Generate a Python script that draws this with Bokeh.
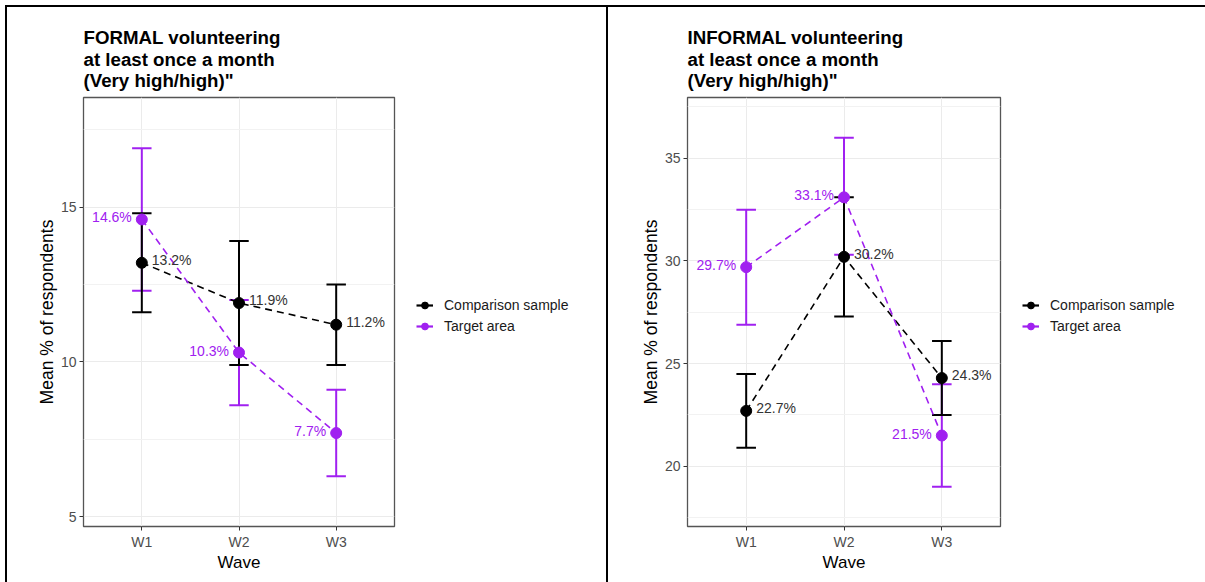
from bokeh.plotting import figure
from bokeh.models import (Range1d, FixedTicker, Legend, LegendItem, Div, Spacer)
from bokeh.layouts import row, column
from bokeh.core.properties import value
from bokeh.embed import file_html
from bokeh.resources import INLINE

waves = ["W1", "W2", "W3"]
series_names = ["Comparison sample", "Target area"]

formal_title = "FORMAL volunteering\nat least once a month\n(Very high/high)\""
formal_comp = [13.2, 11.9, 11.2]
formal_comp_lo = [11.6, 9.9, 9.9]
formal_comp_hi = [14.8, 13.9, 12.5]
formal_target = [14.6, 10.3, 7.7]
formal_target_lo = [12.3, 8.6, 6.3]
formal_target_hi = [16.9, 12.0, 9.1]
formal_yticks = [5, 10, 15]

informal_title = "INFORMAL volunteering\nat least once a month\n(Very high/high)\""
informal_comp = [22.7, 30.2, 24.3]
informal_comp_lo = [20.9, 27.3, 22.5]
informal_comp_hi = [24.5, 33.1, 26.1]
informal_target = [29.7, 33.1, 21.5]
informal_target_lo = [26.9, 30.3, 19.0]
informal_target_hi = [32.5, 36.0, 24.0]
informal_yticks = [20, 25, 30, 35]

FONT = "Liberation Sans"
BLACK = "#000000"
PURPLE = "#A020F0"
NAN = float("nan")
COLORS = (BLACK, PURPLE)


def make_panel(title, comp, comp_lo, comp_hi, targ, targ_lo, targ_hi, yticks,
               yrange, width, mb_left, mb_right, mb_top, mb_bottom):
    p = figure(width=width, height=575, x_range=Range1d(0.4, 3.6),
               y_range=Range1d(*yrange), output_backend="svg",
               toolbar_location=None, min_border_left=mb_left,
               min_border_right=mb_right, min_border_top=mb_top,
               min_border_bottom=mb_bottom)
    p.background_fill_color = "white"
    p.border_fill_color = "white"
    p.outline_line_color = "#555555"
    p.outline_line_width = 1.3

    xs = list(range(1, len(waves) + 1))
    step = yticks[1] - yticks[0]
    minor = [t - step / 2 for t in yticks] + [yticks[-1] + step / 2]

    p.xaxis.ticker = FixedTicker(ticks=xs)
    p.xaxis.major_label_overrides = {i + 1: w for i, w in enumerate(waves)}
    p.yaxis.ticker = FixedTicker(ticks=yticks, minor_ticks=minor)
    for ax in (p.xaxis, p.yaxis):
        ax.axis_line_color = None
        ax.major_tick_line_color = "#333333"
        ax.major_tick_out = 4
        ax.major_tick_in = 0
        ax.minor_tick_line_color = None
        ax.major_label_text_font = FONT
        ax.major_label_text_font_size = "14px"
        ax.major_label_text_color = "#4D4D4D"
        ax.major_label_standoff = 3
        ax.axis_label_text_font = FONT
        ax.axis_label_text_font_style = "normal"
        ax.axis_label_text_color = "#000000"
    p.xaxis.axis_label = "Wave"
    p.xaxis.axis_label_text_font_size = "17px"
    p.xaxis.axis_label_standoff = 0
    p.yaxis.axis_label = "Mean % of respondents"
    p.yaxis.axis_label_text_font_size = "17.5px"
    p.yaxis.axis_label_standoff = 1

    p.xgrid.grid_line_color = "#EBEBEB"
    p.ygrid.grid_line_color = "#EBEBEB"
    p.ygrid.minor_grid_line_color = "#F2F2F2"
    p.xgrid.grid_line_width = 1
    p.ygrid.grid_line_width = 1

    p.title.text = title
    p.title.text_font = FONT
    p.title.text_font_size = "18.7px"
    p.title.text_font_style = "bold"
    p.title.text_color = "#000000"
    p.title.align = "left"
    p.title.text_line_height = 1.02
    p.title.standoff = 13

    cap = 0.1
    # error bars: target first, comparison on top
    for lo, hi, col in ((targ_lo, targ_hi, PURPLE), (comp_lo, comp_hi, BLACK)):
        p.segment(x0=xs, y0=lo, x1=xs, y1=hi, line_color=col, line_width=2)
        p.segment(x0=[x - cap for x in xs], y0=lo, x1=[x + cap for x in xs], y1=lo,
                  line_color=col, line_width=2)
        p.segment(x0=[x - cap for x in xs], y0=hi, x1=[x + cap for x in xs], y1=hi,
                  line_color=col, line_width=2)

    p.line(xs, comp, line_color=BLACK, line_width=1.6, line_dash="7 5")
    p.line(xs, targ, line_color=PURPLE, line_width=1.6, line_dash="7 5")
    p.scatter(xs, comp, size=11, fill_color=BLACK, line_color=BLACK)
    p.scatter(xs, targ, size=11, fill_color=PURPLE, line_color=PURPLE)

    p.text(x=xs, y=comp, text=[f"{v}%" for v in comp], x_offset=10, y_offset=-3,
           text_align="left", text_baseline="middle", text_font=value(FONT),
           text_font_size="14px", text_color="#333333")
    p.text(x=xs, y=targ, text=[f"{v}%" for v in targ], x_offset=-10, y_offset=-2,
           text_align="right", text_baseline="middle", text_font=value(FONT),
           text_font_size="14px", text_color=PURPLE)
    return p


def make_legend_fig(width, loc):
    f = figure(width=width, height=575, x_range=Range1d(0, 1), y_range=Range1d(0, 1),
               output_backend="svg", toolbar_location=None, min_border=0,
               x_axis_type=None, y_axis_type=None)
    f.outline_line_color = None
    f.xgrid.visible = False
    f.ygrid.visible = False
    f.background_fill_color = "white"
    f.border_fill_color = "white"
    items = []
    for name, col in zip(series_names, COLORS):
        lr = f.line(x=[NAN, NAN], y=[NAN, NAN], line_color=col, line_width=2.2)
        sr = f.scatter(x=[NAN], y=[NAN], size=12, fill_color=col, line_color=col)
        items.append(LegendItem(label=name, renderers=[lr, sr]))
    leg = Legend(items=items, location=loc, padding=0, margin=0,
                 border_line_color=None, background_fill_alpha=0,
                 glyph_width=17, glyph_height=20, label_height=20, spacing=1,
                 label_standoff=11, label_text_font=FONT,
                 label_text_font_size="14px", label_text_color="#1A1A1A")
    f.add_layout(leg, "center")
    return f


p1 = make_panel(formal_title, formal_comp, formal_comp_lo, formal_comp_hi,
                formal_target, formal_target_lo, formal_target_hi, formal_yticks,
                (4.68, 18.54), 392, 76, 5, 90, 55)
l1 = make_legend_fig(207, (17, 190))
p2 = make_panel(informal_title, informal_comp, informal_comp_lo, informal_comp_hi,
                informal_target, informal_target_lo, informal_target_hi, informal_yticks,
                (17.07, 37.96), 397, 79, 5, 89, 56)
l2 = make_legend_fig(200, (17, 190))


def bar(w, h):
    return Div(text="", width=w, height=h, margin=(0, 0, 0, 0),
               styles={"background-color": "black"})


layout = column(
    Spacer(width=1205, height=5, margin=(0, 0, 0, 0)),
    row(Spacer(width=5, height=2, margin=(0, 0, 0, 0)), bar(1200, 2),
        margin=(0, 0, 0, 0)),
    row(Spacer(width=5, height=575, margin=(0, 0, 0, 0)), bar(2, 575), p1, l1,
        bar(2, 575), p2, l2, margin=(0, 0, 0, 0)),
    margin=(0, 0, 0, 0),
)

open("out.html", "w").write(file_html(layout, INLINE))
